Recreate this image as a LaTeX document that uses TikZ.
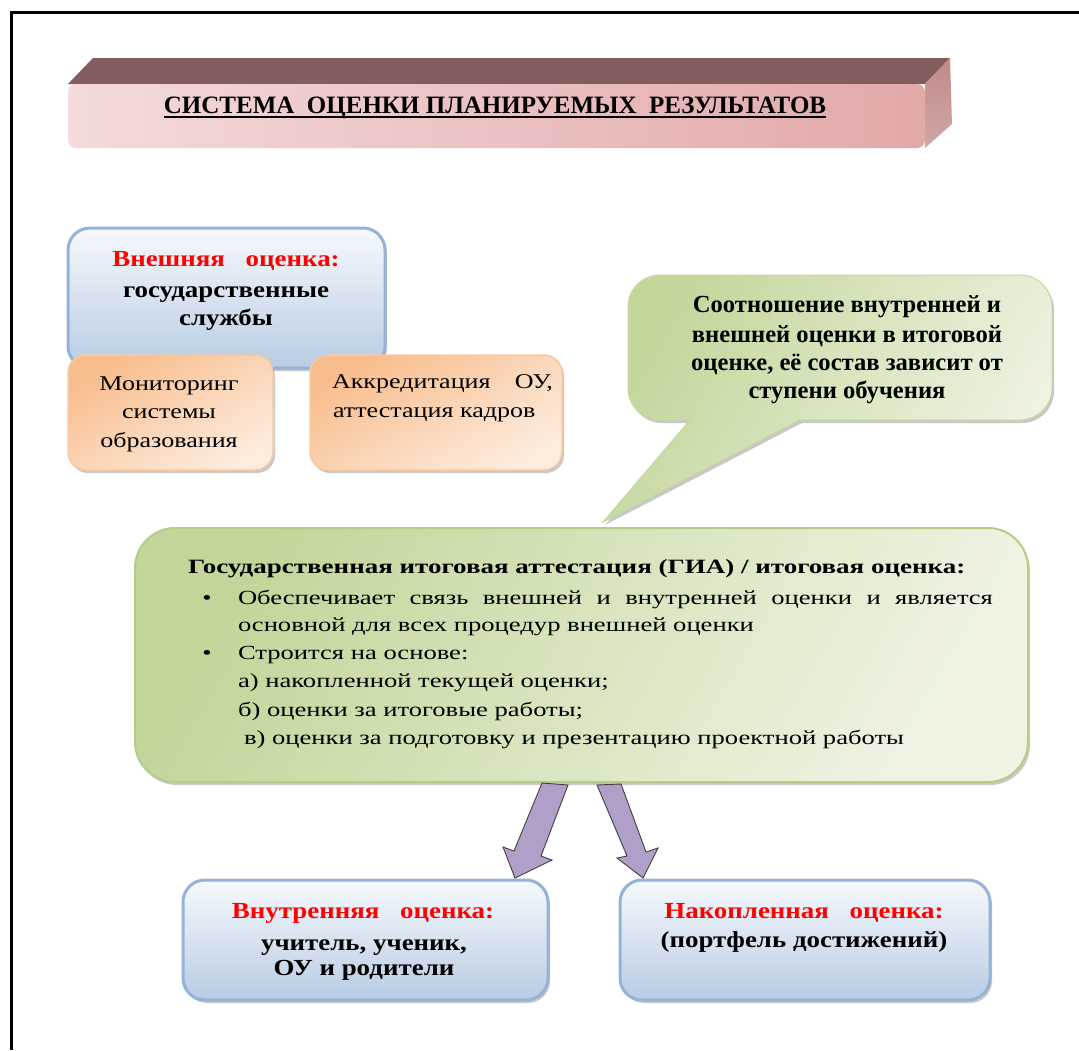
\documentclass[tikz,border=0pt]{standalone}
\usepackage{fontspec}
\setmainfont{Liberation Serif}
\newfontfamily\fextf{Liberation Serif}[FakeStretch=1.17]
\newfontfamily\forgf{Liberation Serif}[FakeStretch=1.24]
\newfontfamily\fmainf{Liberation Serif}[FakeStretch=1.33]
\usetikzlibrary{shadows}
\definecolor{blueborder}{HTML}{95B3D7}
\definecolor{bluetop}{HTML}{F6F9FC}
\definecolor{bluebot}{HTML}{B8CCE4}
\definecolor{orgtop}{HTML}{F8BD8C}
\definecolor{orgbot}{HTML}{FDEBDD}
\definecolor{orgborder}{HTML}{F9C9A1}
\definecolor{grndark}{HTML}{C2D69A}
\definecolor{grnlight}{HTML}{EEF3E2}
\definecolor{grnborder}{HTML}{B5CD88}
\definecolor{arrowfill}{HTML}{B09FC9}
\definecolor{titletop}{HTML}{835D5C}
\definecolor{titleside}{HTML}{C08A89}
\definecolor{titledark}{HTML}{E3A8A8}
\definecolor{titlelight}{HTML}{F4DADA}
\definecolor{redtxt}{HTML}{FF0000}
\tikzset{
  softshadow/.style={drop shadow={shadow xshift=2pt, shadow yshift=-3pt, opacity=0.3, fill=black!70}},
  bluebox/.style={draw=blueborder, line width=3pt, rounded corners=22pt, top color=bluetop, bottom color=bluebot, softshadow, inner sep=0pt},
  orgbox/.style={draw=orgborder, line width=1.5pt, rounded corners=18pt, top color=orgtop, bottom color=orgbot, shading angle=30, softshadow, inner sep=0pt},
  grnbox/.style={draw=grnborder, line width=2pt, rounded corners=40pt, left color=grndark, right color=grnlight, shading angle=60, softshadow, inner sep=0pt},
  fatarrow/.style={fill=arrowfill, draw=black!75, line width=0.9pt, line join=miter},
  t/.style={inner sep=0pt, outer sep=0pt, anchor=base},
  tl/.style={inner sep=0pt, outer sep=0pt, anchor=base west},
  fbig/.style={font=\fextf\bfseries\fontsize{23}{27}\selectfont},
  freg/.style={font=\forgf\fontsize{21}{25}\selectfont},
  fbub/.style={font=\bfseries\fontsize{24.6}{28}\selectfont},
  fmain/.style={font=\fmainf\fontsize{20}{24}\selectfont},
  fmainb/.style={font=\fmainf\bfseries\fontsize{20.3}{24}\selectfont},
  ftitle/.style={font=\bfseries\fontsize{25}{29}\selectfont},
}
\begin{document}
\begin{tikzpicture}[x=1pt,y=-1pt]
\useasboundingbox (0,0) rectangle (1079,1050);
\fill[white] (0,0) rectangle (1079,1050);
% frame
\draw[line width=3pt, black] (11,1050) -- (11,12) -- (1079,12);

% ---- title bar ----
\fill[titletop] (68,84) -- (93,58) -- (950,58) -- (925,84) -- cycle;
\shade[top color=titleside, bottom color=titleside!75!white] (925,84) -- (950,58) -- (952,124) -- (925,148) -- cycle;
\node[rounded corners=8pt, left color=titlelight, right color=titledark, minimum width=857pt, minimum height=64pt, inner sep=0pt] (bar) at (496.5,116) {};
\node[t, ftitle] (titletext) at (495,113) {СИСТЕМА\ \ ОЦЕНКИ ПЛАНИРУЕМЫХ\ \ РЕЗУЛЬТАТОВ};
\draw[line width=2.2pt] ([yshift=-4pt]titletext.base west) -- ([yshift=-4pt]titletext.base east);

% ---- external assessment ----
\node[bluebox, minimum width=317pt, minimum height=140pt] (ext) at (226.5,298) {};
\node[t, fbig, text=redtxt] (ext1) at (226,266) {Внешняя\hspace{0.9em}оценка:};
\node[t, fbig] (ext2) at (226,297) {государственные};
\node[t, fbig] (ext3) at (226,325) {службы};

\node[orgbox, minimum width=205pt, minimum height=115pt] (mon) at (170.5,412.5) {};
\node[t, freg] (mon1) at (169,390) {Мониторинг};
\node[t, freg] (mon2) at (169,418) {системы};
\node[t, freg] (mon3) at (169,447) {образования};

\node[orgbox, minimum width=252pt, minimum height=115pt] (acc) at (436,412.5) {};
\node[tl, freg] (acc1) at (332,388) {\makebox[221pt][s]{Аккредитация ОУ,}};
\node[tl, freg] (acc2) at (333,417) {аттестация кадров};

% ---- speech bubble ----
\path[fill=black!70, opacity=0.3, xshift=2pt, yshift=-3pt]
  (800,420) -- (603,522) -- (690,420) [rounded corners=32pt] -- (628,420) -- (628,275) -- (1052,275) -- (1052,420) [sharp corners] -- cycle;
\path[draw=grnborder!80!white, line width=1pt, left color=grndark, right color=grnlight, shading angle=60]
  (800,420) -- (603,522) -- (690,420) [rounded corners=32pt] -- (628,420) -- (628,275) -- (1052,275) -- (1052,420) [sharp corners] -- cycle;
\node[t, fbub] (bub1) at (847,312) {Соотношение внутренней и};
\node[t, fbub] (bub2) at (847,342) {внешней оценки в итоговой};
\node[t, fbub] (bub3) at (847,370) {оценке, её состав зависит от};
\node[t, fbub] (bub4) at (847,398) {ступени обучения};

% ---- main box ----
\node[grnbox, minimum width=893pt, minimum height=254pt] (gia) at (581.5,655) {};
\node[tl, fmainb] (gia0) at (188,573) {Государственная итоговая аттестация (ГИА) / итоговая оценка:};
\node[t, fmain] (b1) at (207,604) {•};
\node[tl, fmain] (gia1) at (238,604) {\makebox[755pt][s]{Обеспечивает связь внешней и внутренней оценки и является}};
\node[tl, fmain] (gia2) at (238,631) {основной для всех процедур внешней оценки};
\node[t, fmain] (b2) at (207,659) {•};
\node[tl, fmain] (gia3) at (238,659) {Строится на основе:};
\node[tl, fmain] (gia4) at (238,687) {а) накопленной текущей оценки;};
\node[tl, fmain] (gia5) at (238,716) {б) оценки за итоговые работы;};
\node[tl, fmain] (gia6) at (244,744) {в) оценки за подготовку и презентацию проектной работы};

% ---- bottom boxes ----
\node[bluebox, minimum width=365pt, minimum height=120pt] (inn) at (365.5,940) {};
\node[t, fbig, text=redtxt] (inn1) at (363,918) {Внутренняя\hspace{0.9em}оценка:};
\node[t, fbig] (inn2) at (364,950) {учитель, ученик,};
\node[t, fbig] (inn3) at (364,975) {ОУ и родители};

\node[bluebox, minimum width=370pt, minimum height=120pt] (acm) at (805,940) {};
\node[t, fbig, text=redtxt] (acm1) at (804,918) {Накопленная\hspace{0.9em}оценка:};
\node[t, fbig] (acm2) at (804,947) {(портфель достижений)};

% ---- arrows ----
\filldraw[fatarrow] (542,783) -- (568,785) -- (541,856) -- (552,860) -- (515,878) -- (503,847) -- (514,851) -- cycle;
\filldraw[fatarrow] (597,785) -- (621,784) -- (646,852) -- (658,848) -- (643,878) -- (617,858) -- (627,856) -- cycle;
\end{tikzpicture}
\end{document}
